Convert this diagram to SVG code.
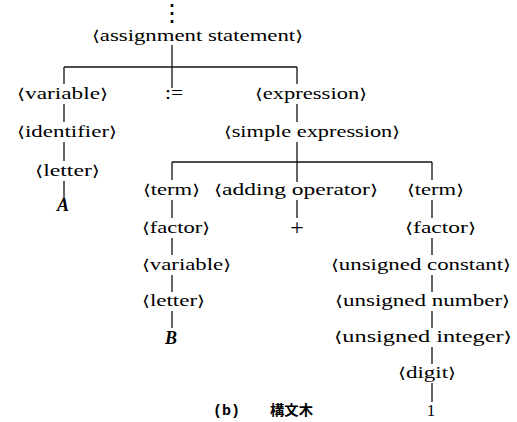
<svg xmlns="http://www.w3.org/2000/svg" width="517" height="422" viewBox="0 0 517 422">
<style>
text{font-family:"Liberation Serif","Times New Roman",serif;font-size:17px;fill:#000}
.b{font-family:"DejaVu Serif",serif;font-size:15px}
.it{font-style:italic;font-weight:bold;font-size:18px}
.op{font-size:19px}
.dots{font-family:"DejaVu Serif",serif;font-size:24px}
.cap{font-family:"Liberation Mono",monospace;font-size:15px;font-weight:bold}
.cjk{font-family:"Noto Sans CJK JP",sans-serif;font-size:14px;font-weight:bold}
.ln line{stroke:#111;stroke-width:1.3}
</style>
<rect width="517" height="422" fill="#fff"/>
<g id="connectors" class="ln">
<line x1="172" y1="45" x2="172" y2="88"/>
<line x1="64" y1="67" x2="297" y2="67"/>
<line x1="64" y1="67" x2="64" y2="84"/>
<line x1="297" y1="67" x2="297" y2="84"/>
<line x1="64" y1="104" x2="64" y2="122"/>
<line x1="64" y1="142" x2="64" y2="161"/>
<line x1="64" y1="181" x2="64" y2="198"/>
<line x1="297" y1="104" x2="297" y2="122"/>
<line x1="297" y1="142" x2="297" y2="182"/>
<line x1="172" y1="162" x2="432" y2="162"/>
<line x1="172" y1="162" x2="172" y2="180"/>
<line x1="432" y1="162" x2="432" y2="180"/>
<line x1="172" y1="200" x2="172" y2="218"/>
<line x1="172" y1="238" x2="172" y2="255"/>
<line x1="172" y1="275" x2="172" y2="292"/>
<line x1="172" y1="311" x2="172" y2="328"/>
<line x1="297" y1="200" x2="297" y2="218"/>
<line x1="432" y1="200" x2="432" y2="218"/>
<line x1="432" y1="238" x2="432" y2="255"/>
<line x1="432" y1="275" x2="432" y2="292"/>
<line x1="432" y1="311" x2="432" y2="328"/>
<line x1="432" y1="347" x2="432" y2="364"/>
<line x1="432" y1="383" x2="432" y2="402"/>
</g>
<g id="dots"><text class="dots" x="172" y="21" text-anchor="middle">⋮</text></g>
<g id="assignment"><text x="92" y="41" textLength="211" lengthAdjust="spacingAndGlyphs"><tspan class="b">⟨</tspan>assignment statement<tspan class="b">⟩</tspan></text></g>
<g id="variable1"><text x="17" y="99" textLength="91" lengthAdjust="spacingAndGlyphs"><tspan class="b">⟨</tspan>variable<tspan class="b">⟩</tspan></text></g>
<g id="assign-op"><text class="op" x="165" y="99" textLength="18" lengthAdjust="spacingAndGlyphs">:=</text></g>
<g id="expression"><text x="255" y="99" textLength="112" lengthAdjust="spacingAndGlyphs"><tspan class="b">⟨</tspan>expression<tspan class="b">⟩</tspan></text></g>
<g id="identifier"><text x="17" y="137" textLength="100" lengthAdjust="spacingAndGlyphs"><tspan class="b">⟨</tspan>identifier<tspan class="b">⟩</tspan></text></g>
<g id="simple-expression"><text x="224" y="137" textLength="176" lengthAdjust="spacingAndGlyphs"><tspan class="b">⟨</tspan>simple expression<tspan class="b">⟩</tspan></text></g>
<g id="letter1"><text x="35" y="176" textLength="65" lengthAdjust="spacingAndGlyphs"><tspan class="b">⟨</tspan>letter<tspan class="b">⟩</tspan></text></g>
<g id="A"><text class="it" x="63" y="211" text-anchor="middle">A</text></g>
<g id="term1"><text x="143" y="195" textLength="57" lengthAdjust="spacingAndGlyphs"><tspan class="b">⟨</tspan>term<tspan class="b">⟩</tspan></text></g>
<g id="adding-operator"><text x="214" y="195" textLength="164" lengthAdjust="spacingAndGlyphs"><tspan class="b">⟨</tspan>adding operator<tspan class="b">⟩</tspan></text></g>
<g id="term2"><text x="407" y="195" textLength="57" lengthAdjust="spacingAndGlyphs"><tspan class="b">⟨</tspan>term<tspan class="b">⟩</tspan></text></g>
<g id="factor1"><text x="142" y="233" textLength="68" lengthAdjust="spacingAndGlyphs"><tspan class="b">⟨</tspan>factor<tspan class="b">⟩</tspan></text></g>
<g id="plus"><text x="297" y="235" text-anchor="middle" style="font-size:24px">+</text></g>
<g id="factor2"><text x="405" y="233" textLength="71" lengthAdjust="spacingAndGlyphs"><tspan class="b">⟨</tspan>factor<tspan class="b">⟩</tspan></text></g>
<g id="variable2"><text x="142" y="270" textLength="89" lengthAdjust="spacingAndGlyphs"><tspan class="b">⟨</tspan>variable<tspan class="b">⟩</tspan></text></g>
<g id="unsigned-constant"><text x="331" y="270" textLength="180" lengthAdjust="spacingAndGlyphs"><tspan class="b">⟨</tspan>unsigned constant<tspan class="b">⟩</tspan></text></g>
<g id="letter2"><text x="142" y="306" textLength="63" lengthAdjust="spacingAndGlyphs"><tspan class="b">⟨</tspan>letter<tspan class="b">⟩</tspan></text></g>
<g id="unsigned-number"><text x="335" y="306" textLength="175" lengthAdjust="spacingAndGlyphs"><tspan class="b">⟨</tspan>unsigned number<tspan class="b">⟩</tspan></text></g>
<g id="B"><text class="it" x="171" y="344" text-anchor="middle">B</text></g>
<g id="unsigned-integer"><text x="334" y="342" textLength="178" lengthAdjust="spacingAndGlyphs"><tspan class="b">⟨</tspan>unsigned integer<tspan class="b">⟩</tspan></text></g>
<g id="digit"><text x="398" y="378" textLength="58" lengthAdjust="spacingAndGlyphs"><tspan class="b">⟨</tspan>digit<tspan class="b">⟩</tspan></text></g>
<g id="one"><text x="431" y="416" text-anchor="middle">1</text></g>
<g id="caption"><text class="cap" x="213" y="415">(b)</text><text class="cjk" x="270" y="415" textLength="43" lengthAdjust="spacingAndGlyphs">構文木</text></g>
</svg>
